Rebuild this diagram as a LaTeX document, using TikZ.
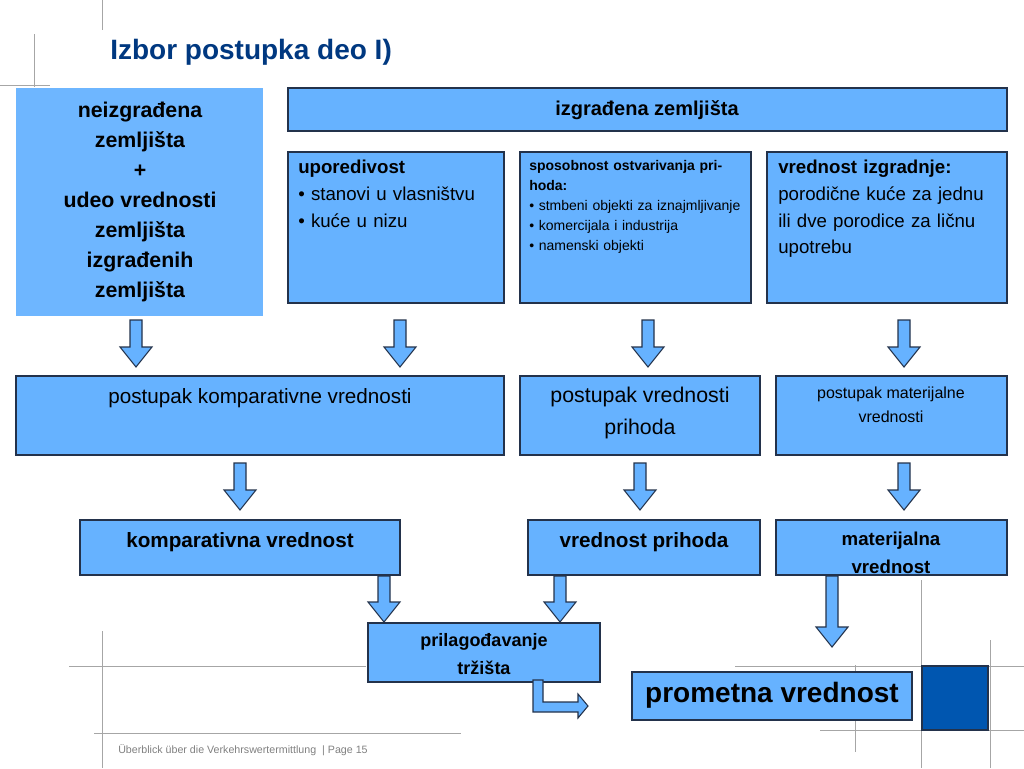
\documentclass[tikz,border=0pt]{standalone}
\usepackage{fontspec}
\setmainfont{Liberation Sans}
\definecolor{lb}{RGB}{102,178,255}
\definecolor{lba}{RGB}{110,182,255}
\definecolor{bd}{RGB}{35,50,75}
\definecolor{ttl}{RGB}{0,56,128}
\definecolor{dk}{RGB}{0,86,176}
\newcommand\blkarrow[3]{\draw[bd,fill=lb,line width=0.8pt] (#1-6,#2)--(#1+6,#2)--(#1+6,#3-20)--(#1+16,#3-20)--(#1,#3)--(#1-16,#3-20)--(#1-6,#3-20)--cycle;}
\begin{document}
\begin{tikzpicture}[x=0.75pt,y=-0.75pt,
 box/.style={draw=bd,fill=lb,line width=0.9pt},
 gl/.style={draw=gray!70,line width=0.7pt},
 tx/.style={inner sep=0pt,align=center,text=black}]
\useasboundingbox (0,0) rectangle (1024,768);
% grid lines
\draw[gl] (102,0)--(102,30) (34,34)--(34,87) (0,85)--(50,85);
\draw[gl] (69,666)--(366,666) (102,631)--(102,768) (94,733)--(461,733);
\draw[gl] (921,580)--(921,768) (990,640)--(990,768) (735,666)--(1024,666) (855,665)--(855,752) (820,730)--(1024,730);
\node[tx,anchor=west,text=ttl,font=\fontsize{21}{25}\selectfont\bfseries] (title) at (110,52) {Izbor postupka deo I)};
% row 1
\fill[lba] (16,88) rectangle (263,316);
\node[tx,font=\fontsize{16}{22.5}\selectfont\bfseries] (a) at (140,202) {neizgrađena\\zemljišta\\+\\udeo vrednosti\\zemljišta\\izgrađenih\\zemljišta};
\draw[box] (288,88) rectangle (1007,131);
\node[tx,font=\fontsize{15}{18}\selectfont\bfseries] (b) at (647,110) {izgrađena zemljišta};
\draw[box] (288,152) rectangle (504,303);
\node[tx,anchor=north west,align=left,text width=205pt*0.75,font=\fontsize{14}{20}\selectfont] (c1) at (298,160) {\textbf{uporedivost}\\• stanovi u vlasništvu\\• kuće u nizu};
\draw[box] (520,152) rectangle (751,303);
\node[tx,anchor=north west,align=left,text width=220pt*0.75,font=\fontsize{10.5}{15}\selectfont] (c2) at (529,160) {\textbf{sposobnost ostvarivanja prihoda:}\\• stmbeni objekti za iznajmljivanje\\• komercijala i industrija\\• namenski objekti};
\draw[box] (767,152) rectangle (1007,303);
\node[tx,anchor=north west,align=left,text width=232pt*0.75,font=\fontsize{14}{20}\selectfont] (c3) at (778,160) {\textbf{vrednost izgradnje:}\\porodične kuće za jednu ili dve porodice za ličnu upotrebu};
\blkarrow{136}{320}{367}\blkarrow{400}{320}{367}\blkarrow{648}{320}{367}\blkarrow{904}{320}{367}
% row 2
\draw[box] (16,376) rectangle (504,455);
\node[tx,font=\fontsize{15.5}{19}\selectfont] (d1) at (260,398) {postupak komparativne vrednosti};
\draw[box] (520,376) rectangle (760,455);
\node[tx,font=\fontsize{16}{24}\selectfont] (d2) at (640,413) {postupak vrednosti\\prihoda};
\draw[box] (776,376) rectangle (1007,455);
\node[tx,font=\fontsize{12}{18}\selectfont] (d3) at (891,405) {postupak materijalne\\vrednosti};
\blkarrow{240}{463}{510}\blkarrow{640}{463}{510}\blkarrow{904}{463}{510}
% row 3
\draw[box] (80,520) rectangle (400,575);
\node[tx,font=\fontsize{15.5}{19}\selectfont\bfseries] (e1) at (240,542) {komparativna vrednost};
\draw[box] (528,520) rectangle (760,575);
\node[tx,font=\fontsize{15.5}{19}\selectfont\bfseries] (e2) at (644,542) {vrednost prihoda};
\draw[box] (776,520) rectangle (1007,575);
\node[tx,font=\fontsize{14}{21}\selectfont\bfseries] (e3) at (891,553) {materijalna\\vrednost};
\blkarrow{384}{576}{622}\blkarrow{560}{576}{622}\blkarrow{832}{576}{647}
% row 4
\draw[box] (368,623) rectangle (600,682);
\node[tx,font=\fontsize{13.5}{21}\selectfont\bfseries] (f) at (484,654) {prilagođavanje\\tržišta};
\draw[bd,fill=lb,line width=0.8pt] (533,680)--(543,680)--(543,702)--(578,702)--(578,694)--(588,706)--(578,718)--(578,712)--(533,712)--cycle;
\draw[box] (632,672) rectangle (912,720);
\node[tx,font=\fontsize{21}{25}\selectfont\bfseries] (g) at (772,695) {prometna vrednost};
\draw[bd,fill=dk,line width=0.9pt] (922,666) rectangle (988,730);
\node[tx,anchor=west,text=gray,font=\fontsize{8}{10}\selectfont] (ft) at (118,750) {Überblick über die Verkehrswertermittlung \ | Page 15};
\end{tikzpicture}
\end{document}
